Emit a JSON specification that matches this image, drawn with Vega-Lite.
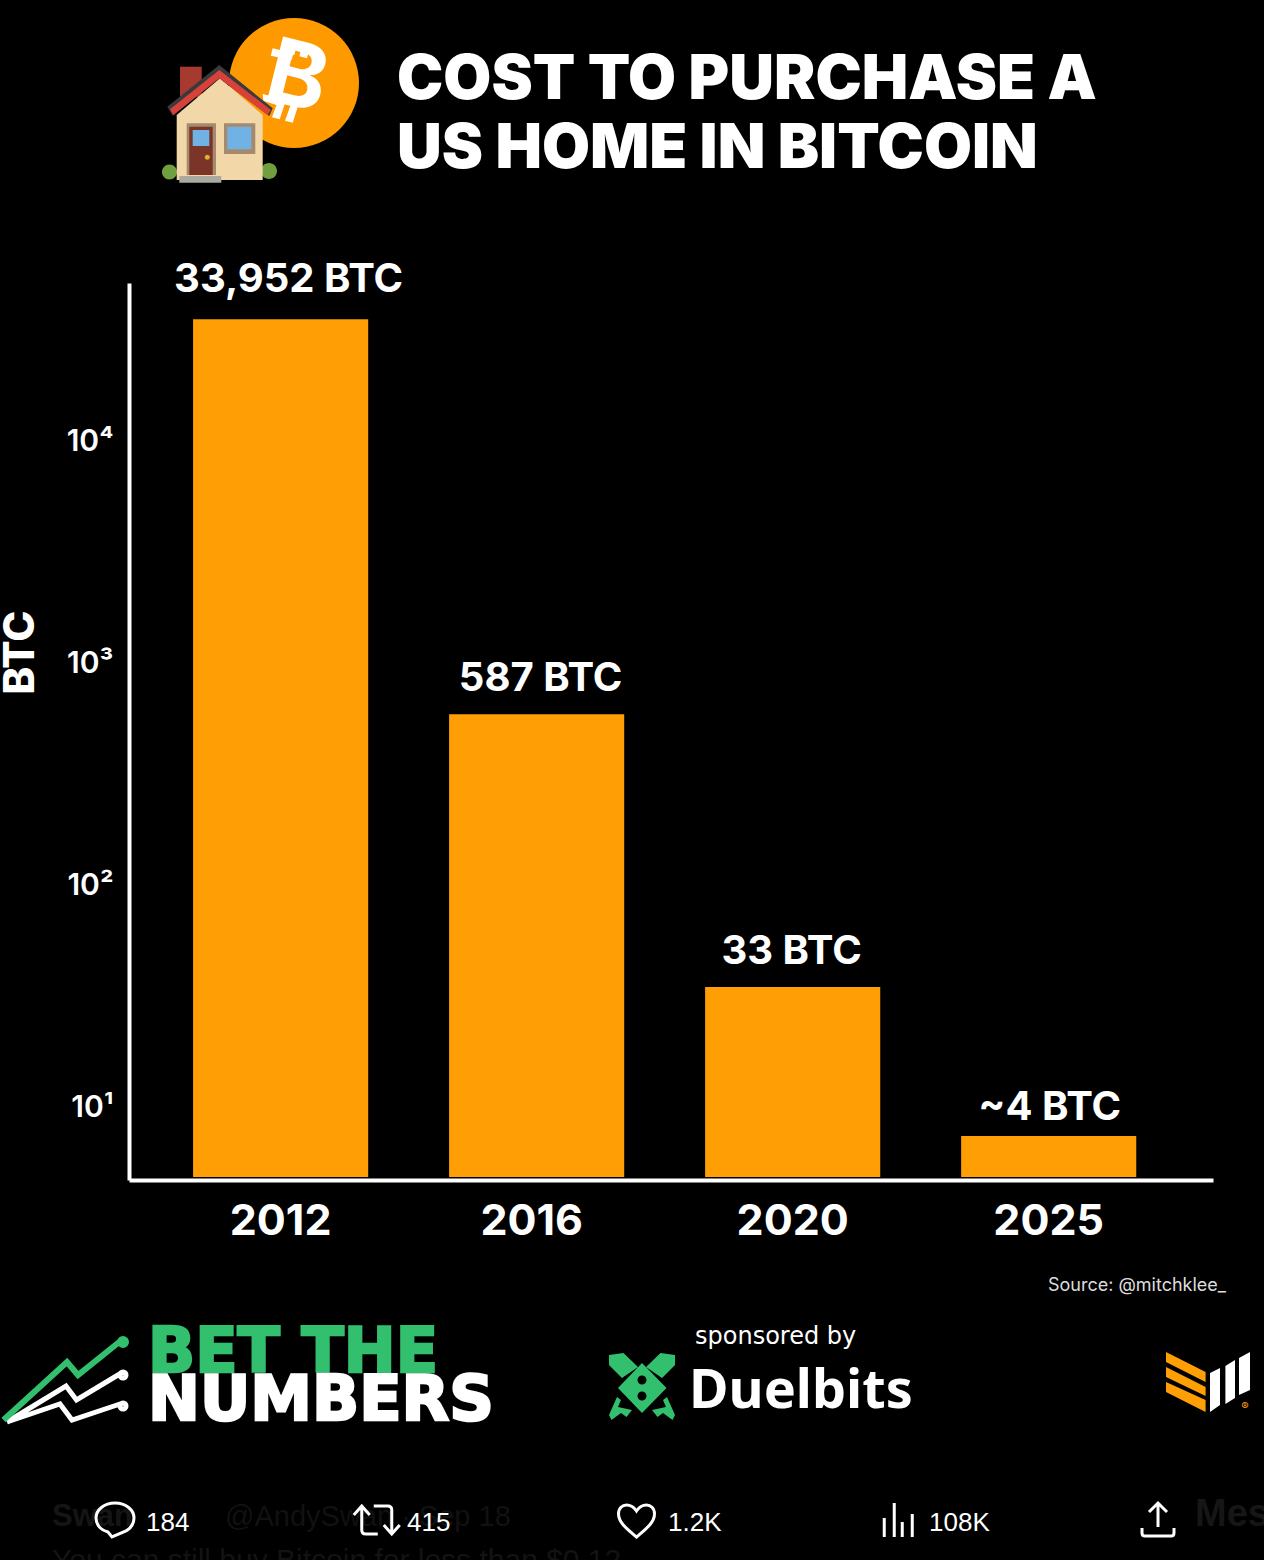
{
"$schema":"https://vega.github.io/schema/vega-lite/v6.json",
"width":1084,"height":897,
"autosize":{"type":"none"},
"padding":{"left":129,"top":283,"right":51,"bottom":380},
"background":"#000000",
"config":{"view":{"stroke":null},"font":"Inter"},
"resolve":{"scale":{"x":"independent","y":"independent"}},
"layer":[
{"data":{"values":[{"year":"2012","btc":35400,"base":4.84,"label":"33,952 BTC"},{"year":"2016","btc":587,"base":4.84,"label":"587 BTC"},{"year":"2020","btc":34.7,"base":4.84,"label":"33 BTC"},{"year":"2025","btc":7.4,"base":4.84,"label":"~4 BTC"}]},
"encoding":{
"x":{"field":"year","type":"nominal","title":null,"sort":null,"scale":{"type":"band","paddingInner":0.316,"paddingOuter":0.275,"align":0.455},
"axis":{"labelAngle":0,"domainColor":"#ffffff","domainWidth":4,"ticks":false,"labelColor":"#ffffff","labelFont":"Inter","labelFontSize":43,"labelFontWeight":700,"labelPadding":20,"labelOffset":{"condition":{"test":"datum.value=='2016'","value":-5},"value":0},"grid":false}},
"y":{"field":"btc","type":"quantitative","title":"BTC","stack":null,"scale":{"type":"log","domain":[4.69,51500],"nice":false},
"axis":{"values":[10,100,1000,10000],"labelExpr":"datum.value==10?'10¹':datum.value==100?'10²':datum.value==1000?'10³':'10⁴'","domainColor":"#ffffff","domainWidth":4,"ticks":false,"grid":false,"labelColor":"#ffffff","labelFont":"Inter","labelFontSize":30,"labelFontWeight":600,"labelPadding":16,"titleColor":"#ffffff","titleFont":"Inter","titleFontSize":42,"titleFontWeight":800,"titleX":-109,"titleY":369,"titleAngle":-90,"titleBaseline":"middle","titleAlign":"center"}}
},
"layer":[
{"mark":{"type":"bar","fill":"#FF9F05","opacity":1,"width":{"band":1}},"encoding":{"y2":{"field":"base"}}},
{"transform":[{"filter":"datum.year=='2012'"}],"mark":{"type":"text","font":"Inter","fontSize":40,"fontWeight":700,"color":"#ffffff","baseline":"alphabetic","dy":-27,"dx":8},"encoding":{"text":{"field":"label"}}},
{"transform":[{"filter":"datum.year=='2016'"}],"mark":{"type":"text","font":"Inter","fontSize":40,"fontWeight":700,"color":"#ffffff","baseline":"alphabetic","dy":-23,"dx":4},"encoding":{"text":{"field":"label"}}},
{"transform":[{"filter":"datum.year=='2020'"}],"mark":{"type":"text","font":"Inter","fontSize":40,"fontWeight":700,"color":"#ffffff","baseline":"alphabetic","dy":-23,"dx":-1},"encoding":{"text":{"field":"label"}}},
{"transform":[{"filter":"datum.year=='2025'"}],"mark":{"type":"text","font":"Inter","fontSize":40,"fontWeight":700,"color":"#ffffff","baseline":"alphabetic","dy":-16,"dx":1},"encoding":{"text":{"field":"label"}}}
]},

{"data":{"values":[{"item":"Title","line":"COST TO PURCHASE A"},{"item":"Title","line":"US HOME IN BITCOIN"}]},
"mark":{"type":"text","font":"Inter","fontSize":62,"fontWeight":900,"color":"#ffffff","align":"left","baseline":"alphabetic"},
"encoding":{"text":{"field":"line"},
"x":{"field":"item","type":"nominal","axis":null,"scale":{"type":"point","padding":0,"range":[268,268]}},
"y":{"field":"line","type":"nominal","axis":null,"scale":{"type":"point","padding":0,"domain":["COST TO PURCHASE A","US HOME IN BITCOIN"],"range":[-184,-115]}}}},

{"data":{"values":[{"item":"Coin"}]},
"encoding":{"x":{"field":"item","type":"nominal","axis":null,"scale":{"type":"point","padding":0,"domain":["Coin"],"range":[165,165]}},"y":{"field":"item","type":"nominal","axis":null,"scale":{"type":"point","padding":0,"domain":["Coin"],"range":[-200,-200]}}},
"layer":[
{"mark":{"type":"circle","size":16900,"color":"#FF9900","opacity":1}},
{"mark":{"type":"text","text":"B","font":"Inter","fontSize":90,"fontWeight":700,"color":"#ffffff","angle":14,"dx":2,"dy":-4}},
{"mark":{"type":"point","filled":true,"opacity":1,"size":4,"color":"#ffffff","strokeWidth":0,"shape":"M-4 -42.3L3.7 -40.7L0.3 -28L-7.3 -29.7ZM8.7 -39.7L16.3 -37.7L13 -24.7L5.3 -26.7ZM-16 18L-9 20L-14.3 36.3L-22 34.3ZM-3 21L4 23L-1.3 39.7L-9 37.7ZM-21.3 -34.7L-0.7 -29.7L-2.3 -23L-23.3 -27.3ZM-31.3 11L-10.7 16.3L-12.3 23.7L-30.7 17.7Z"}}
]},

{"data":{"values":[{"item":"House"}]},
"encoding":{"x":{"field":"item","type":"nominal","axis":null,"scale":{"type":"point","padding":0,"domain":["House"],"range":[89,89]}},"y":{"field":"item","type":"nominal","axis":null,"scale":{"type":"point","padding":0,"domain":["House"],"range":[-158,-158]}}},
"layer":[
{"mark":{"type":"point","filled":true,"opacity":1,"size":4,"strokeWidth":0,"color":"#6F9F3F","shape":"M-56 47a7.5 7.5 0 1 0 15 0a7.5 7.5 0 1 0 -15 0ZM43 46a8 8 0 1 0 16 0a8 8 0 1 0 -16 0Z"}},
{"mark":{"type":"point","filled":true,"opacity":1,"size":4,"strokeWidth":0,"color":"#A63A2E","shape":"M-38 -58.3L-16.3 -58.3L-16.3 -28L-38 -28Z"}},
{"mark":{"type":"point","filled":true,"opacity":1,"size":4,"strokeWidth":0,"color":"#F2D7A8","shape":"M-41.3 -10L2 -46.7L44.7 -10L44.7 55L-41.3 55Z"}},
{"mark":{"type":"point","filled":true,"opacity":1,"size":4,"strokeWidth":0,"color":"#3A3A3A","shape":"M-50.7 -18.3L1.3 -60L54.7 -16.7L51.3 -9L1.3 -46.7L-45.3 -9Z"}},
{"mark":{"type":"point","filled":true,"opacity":1,"size":4,"strokeWidth":0,"color":"#D8403A","shape":"M-48 -15.7L1.3 -55L53 -15L49.3 -10L1.3 -46.7L-44.7 -10Z"}},
{"mark":{"type":"point","filled":true,"opacity":1,"size":4,"strokeWidth":0,"color":"#A58A6E","shape":"M-31.3 -1.7L-2 -1.7L-2 50L-31.3 50ZM6 -1.7L37.3 -1.7L37.3 29L6 29Z"}},
{"mark":{"type":"point","filled":true,"opacity":1,"size":4,"strokeWidth":0,"color":"#7A3528","shape":"M-28.7 1.7L-5.3 1.7L-5.3 50L-28.7 50Z"}},
{"mark":{"type":"point","filled":true,"opacity":1,"size":4,"strokeWidth":0,"color":"#70B2E4","shape":"M-25.3 5L-8.7 5L-8.7 21L-25.3 21ZM9.3 1.7L33.3 1.7L33.3 24.3L9.3 24.3Z"}},
{"mark":{"type":"point","filled":true,"opacity":1,"size":4,"strokeWidth":0,"color":"#E0B030","shape":"M-13.2 32.3a2.5 2.5 0 1 0 5 0a2.5 2.5 0 1 0 -5 0Z"}},
{"mark":{"type":"point","filled":true,"opacity":1,"size":4,"strokeWidth":0,"color":"#A9A9A0","shape":"M-38.7 51L3.3 51L3.3 57.7L-38.7 57.7Z"}}
]},

{"data":{"values":[{"item":"Source: @mitchklee_"}]},
"mark":{"type":"text","font":"Inter","fontSize":18,"color":"#dddddd","align":"right","baseline":"alphabetic"},
"encoding":{"text":{"field":"item"},"x":{"field":"item","type":"nominal","axis":null,"scale":{"type":"point","padding":0,"range":[1097,1097]}},"y":{"field":"item","type":"nominal","axis":null,"scale":{"type":"point","padding":0,"range":[1008,1008]}}}},

{"data":{"values":[{"item":"Logo"}]},
"encoding":{"x":{"field":"item","type":"nominal","axis":null,"scale":{"type":"point","padding":0,"range":[-64,-64]}},"y":{"field":"item","type":"nominal","axis":null,"scale":{"type":"point","padding":0,"range":[1097,1097]}}},
"layer":[
{"mark":{"type":"point","filled":false,"opacity":1,"size":4,"stroke":"#ffffff","strokeWidth":5,"shape":"M-58 42L1 6L11.5 20L58 -8M58 -8a3 3 0 1 0 0.01 0M-58 42L-5 24L7 40L58 23M58 23a3 3 0 1 0 0.01 0"}},
{"mark":{"type":"point","filled":false,"opacity":1,"size":4,"stroke":"#33C06E","strokeWidth":6,"shape":"M-61.5 40L2 -18L13 -5L58 -41M58 -41a3 3 0 1 0 0.01 0"}}
]},

{"data":{"values":[{"item":"Wordmark","word":"BET THE"},{"item":"Wordmark","word":"NUMBERS"}]},
"mark":{"type":"text","font":"DejaVu Sans","fontSize":62,"fontWeight":700,"align":"left","baseline":"alphabetic","strokeWidth":2.5},
"encoding":{"text":{"field":"word"},
"color":{"field":"word","type":"nominal","legend":null,"scale":{"domain":["BET THE","NUMBERS"],"range":["#33C06E","#ffffff"]}},
"stroke":{"field":"word","type":"nominal","legend":null,"scale":{"domain":["BET THE","NUMBERS"],"range":["#33C06E","#ffffff"]}},
"x":{"field":"item","type":"nominal","axis":null,"scale":{"type":"point","padding":0,"range":[19,19]}},
"y":{"field":"word","type":"nominal","axis":null,"scale":{"type":"point","padding":0,"domain":["BET THE","NUMBERS"],"range":[1089,1137]}}}},

{"data":{"values":[{"item":"Duelbits"}]},
"encoding":{"x":{"field":"item","type":"nominal","axis":null,"scale":{"type":"point","padding":0,"range":[513,513]}},"y":{"field":"item","type":"nominal","axis":null,"scale":{"type":"point","padding":0,"range":[1104,1104]}}},
"layer":[
{"mark":{"type":"point","filled":true,"opacity":1,"size":4,"strokeWidth":0,"color":"#33C06E","shape":"M0 -24L24.5 1L0 26L-24 1ZM-33 -32L-18.5 -34L-4 -20L-20 -9L-33 -22ZM33 -32L18.5 -34L4 -20L20 -9L33 -22ZM-33 28L-25 10L-21 13L-24 20L-10 23L-15.5 30L-21 26L-30.5 33ZM33 28L25 10L21 13L24 20L10 23L15.5 30L21 26L30.5 33Z"}},
{"mark":{"type":"point","filled":true,"opacity":1,"size":4,"strokeWidth":0,"color":"#000000","shape":"M-4.5 -7a4.5 4.5 0 1 0 9 0a4.5 4.5 0 1 0 -9 0ZM-4.5 9a4.5 4.5 0 1 0 9 0a4.5 4.5 0 1 0 -9 0Z"}},
{"mark":{"type":"text","text":"sponsored by","font":"DejaVu Sans","fontSize":24,"color":"#ffffff","align":"left","baseline":"alphabetic","dx":53,"dy":-43}},
{"mark":{"type":"text","text":"Duelbits","font":"Noto Sans","fontSize":54,"fontWeight":700,"color":"#ffffff","align":"left","baseline":"alphabetic","dx":47,"dy":21}}
]},

{"data":{"values":[{"item":"Mark"}]},
"encoding":{"x":{"field":"item","type":"nominal","axis":null,"scale":{"type":"point","padding":0,"range":[1079,1079]}},"y":{"field":"item","type":"nominal","axis":null,"scale":{"type":"point","padding":0,"range":[1099,1099]}}},
"layer":[
{"mark":{"type":"point","filled":true,"opacity":1,"size":4,"strokeWidth":0,"color":"#FF9F05","shape":"M-42 -30L-2.4 -10L-2.4 0L-42 -20ZM-42 -15L-2.4 5L-2.4 14L-42 -5ZM-42 0L-2.4 18L-2.4 30L-42 10Z"}},
{"mark":{"type":"point","filled":true,"opacity":1,"size":4,"strokeWidth":0,"color":"#ffffff","shape":"M2 -9L12 -14L12 23L2 30ZM17.4 -16L27 -22L27 16L17.4 22ZM31 -24L42 -30L42 8L31 13Z"}},
{"mark":{"type":"text","text":"®","font":"Inter","fontSize":11,"color":"#FF9F05","dx":37,"dy":25}}
]},

{"data":{"values":[{"item":"Tweet"}]},
"encoding":{"x":{"field":"item","type":"nominal","axis":null,"scale":{"type":"point","padding":0,"range":[-77,-77]}},"y":{"field":"item","type":"nominal","axis":null,"scale":{"type":"point","padding":0,"range":[1243,1243]}}},
"layer":[
{"mark":{"type":"text","text":"Swan","font":"Liberation Sans","fontSize":31,"fontWeight":700,"color":"#151515","align":"left","baseline":"alphabetic"}},
{"mark":{"type":"text","text":"@AndySwan · Sep 18","font":"Liberation Sans","fontSize":29,"color":"#111111","align":"left","baseline":"alphabetic","dx":173}},
{"mark":{"type":"text","text":"Mes","font":"Liberation Sans","fontSize":38,"fontWeight":700,"color":"#161616","align":"left","baseline":"alphabetic","dx":1143}},
{"mark":{"type":"text","text":"You can still buy Bitcoin for less than $0.12","font":"Liberation Sans","fontSize":30,"color":"#131313","align":"left","baseline":"alphabetic","dy":44}}
]},

{"data":{"values":[{"item":"184"},{"item":"415"},{"item":"1.2K"},{"item":"108K"}]},
"mark":{"type":"text","font":"Liberation Sans","fontSize":26,"color":"#ffffff","align":"left","baseline":"alphabetic"},
"encoding":{"text":{"field":"item"},"x":{"field":"item","type":"nominal","axis":null,"sort":null,"scale":{"type":"point","padding":0,"domain":["184","415","1.2K","108K"],"range":[17,800]}},"y":{"datum":"Stats","type":"nominal","axis":null,"scale":{"type":"point","padding":0,"range":[1248,1248]}}}},

{"data":{"values":[{"item":"Reply"},{"item":"Retweet"},{"item":"Like"},{"item":"Views"},{"item":"Share"}]},
"encoding":{"x":{"field":"item","type":"nominal","axis":null,"scale":{"type":"point","padding":0,"domain":["Reply","Retweet","Like","Views","Share"],"range":[-14,1029]}},"y":{"datum":"Icons","type":"nominal","axis":null,"scale":{"type":"point","padding":0,"range":[1237,1237]}}},
"layer":[
{"transform":[{"filter":"datum.item=='Reply'"}],"mark":{"type":"point","filled":false,"opacity":1,"size":4,"stroke":"#ffffff","strokeWidth":3,"shape":"M-7 12C-14 10 -19 5 -19 -2C-19 -10 -11 -17 0 -17C11 -17 19 -10 19 -2C19 4 16 8 11 11L-3 17L-7 12Z"}},
{"transform":[{"filter":"datum.item=='Retweet'"}],"mark":{"type":"point","filled":false,"opacity":1,"size":4,"stroke":"#ffffff","strokeWidth":3,"shape":"M-14 -14L-14 10Q-14 14 -10 14L2 14M-22 -5L-14 -14L-6 -5M-2 -14L12 -14Q16 -14 16 -10L16 13M8 5L16 14L24 5"}},
{"transform":[{"filter":"datum.item=='Like'"}],"mark":{"type":"point","filled":false,"opacity":1,"size":4,"stroke":"#ffffff","strokeWidth":3,"shape":"M0 17C-8 10 -18 3 -18 -6C-18 -12 -14 -15 -10 -15C-5 -15 -2 -12 0 -9C2 -12 5 -15 10 -15C14 -15 18 -12 18 -6C18 3 8 10 0 17Z"}},
{"transform":[{"filter":"datum.item=='Views'"}],"mark":{"type":"point","filled":false,"opacity":1,"size":4,"stroke":"#ffffff","strokeWidth":3,"shape":"M-13 -2V17M-3 -17V17M5 2V17M15 -6V17"}},
{"transform":[{"filter":"datum.item=='Share'"}],"mark":{"type":"point","filled":false,"opacity":1,"size":4,"stroke":"#ffffff","strokeWidth":3,"shape":"M0 -17V7M-9 -8L0 -17L9 -8M-16 8V13Q-16 16 -13 16L13 16Q16 16 16 13V8"}}
]}
]
}
